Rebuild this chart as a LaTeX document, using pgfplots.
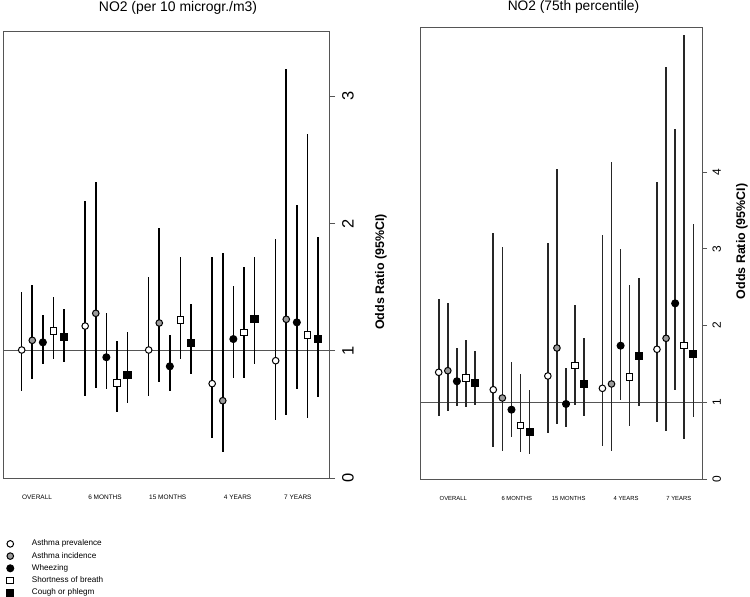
\documentclass[border=0pt]{standalone}
\usepackage{pgfplots}
\pgfplotsset{compat=1.18}
\usepackage{pgfplotstable}
\usepackage{fontspec}
\setmainfont{Liberation Sans}

\definecolor{boxgray}{HTML}{555555}
\definecolor{fillgray}{HTML}{9A9A9A}

% ---------- left panel: NO2 per 10 microgr/m3 ----------
\pgfplotstableread{
x y lo hi
1 1.007 0.685 1.465
7 1.195 0.646 2.177
13 1.007 0.646 1.582
19 0.743 0.319 1.740
25 0.923 0.458 1.878
}\LPrev
\pgfplotstableread{
x y lo hi
2 1.083 0.779 1.517
8 1.295 0.711 2.328
14 1.219 0.758 1.962
20 0.609 0.209 1.766
26 1.248 0.497 3.210
}\LInc
\pgfplotstableread{
x y lo hi
3 1.067 0.897 1.282
9 0.950 0.701 1.297
15 0.879 0.688 1.125
21 1.093 0.785 1.512
27 1.224 0.701 2.145
}\LWhz
\pgfplotstableread{
x y lo hi
4 1.154 0.936 1.425
10 0.746 0.518 1.080
16 1.243 0.936 1.735
22 1.143 0.785 1.661
28 1.125 0.476 2.700
}\LSob
\pgfplotstableread{
x y lo hi
5 1.111 0.915 1.326
11 0.813 0.589 1.151
17 1.060 0.816 1.368
23 1.250 0.897 1.740
29 1.091 0.641 1.894
}\LCough

% ---------- right panel: NO2 75th percentile ----------
\pgfplotstableread{
x y lo hi
1 1.391 0.826 2.343
7 1.164 0.421 3.203
13 1.343 0.596 3.073
19 1.182 0.434 3.181
25 1.691 0.739 3.868
}\RPrev
\pgfplotstableread{
x y lo hi
2 1.412 0.882 2.290
8 1.056 0.365 3.030
14 1.708 0.721 4.042
20 1.239 0.369 4.137
26 1.834 0.621 5.367
}\RInc
\pgfplotstableread{
x y lo hi
3 1.274 0.956 1.704
9 0.904 0.552 1.525
15 0.978 0.674 1.443
21 1.738 1.030 3.000
27 2.290 1.160 4.563
}\RWhz
\pgfplotstableread{
x y lo hi
4 1.313 0.943 1.812
10 0.695 0.356 1.365
16 1.482 0.965 2.273
22 1.326 0.695 2.529
28 1.743 0.521 5.789
}\RSob
\pgfplotstableread{
x y lo hi
5 1.256 0.965 1.669
11 0.613 0.326 1.160
17 1.235 0.826 1.834
23 1.600 0.956 2.617
29 1.625 0.812 3.325
}\RCough

\pgfplotsset{
  panel/.style={
    scale only axis,
    anchor=south west,
    ymin=0,
    axis line style={boxgray, line width=0.9bp},
    ytick pos=right, yticklabel pos=right,
    ytick align=outside, xtick align=inside,
    ytick style={boxgray, line width=0.9bp},
    xtick style={draw=none},
    xticklabel pos=lower,
    /pgf/number format/assume math mode=true,
    xticklabel style={anchor=center, yshift=-19.4bp, font=\fontsize{6.5}{6.5}\selectfont},
    xticklabels={OVERALL,6 MONTHS,15 MONTHS,4 YEARS,7 YEARS},
    clip=false,
  },
  ci/.style={
    only marks, line width=1bp, draw=black,
    error bars/y dir=both, error bars/y explicit, error bars/error mark=none,
    error bars/error bar style={line width=1.6bp, color=#1, solid},
  },
  ci/.default=black,
  mprev/.style={mark=*, mark size=3.3bp, mark options={fill=white, draw=black}},
  minc/.style={mark=*, mark size=3.3bp, mark options={fill=fillgray, draw=black}},
  mwhz/.style={mark=*, mark size=3.5bp, mark options={fill=black, draw=black}},
  msob/.style={mark=square*, mark size=3.3bp, mark options={fill=white, draw=black}},
  mcough/.style={mark=square*, mark size=3.6bp, mark options={fill=black, draw=black}},
}

\begin{document}
\begin{tikzpicture}[x=1bp, y=1bp]
\useasboundingbox (0,0) rectangle (750,597);

% left panel
\begin{axis}[panel,
  at={(3bp,118.7bp)}, width=326bp, height=447.3bp,
  xmin=-0.767, xmax=30.04, ymax=3.511,
  major tick length=6bp,
  ytick={0,1,2,3},
  yticklabel style={xshift=13bp, rotate=90, anchor=center, font=\fontsize{16.5}{16.5}\selectfont},
  xtick={2.45,8.87,14.8,21.4,27.1},
  legend style={at={(0.0015,-0.1328)}, anchor=north west, draw=none, fill=none,
    font=\fontsize{8.2}{8.2}\selectfont, row sep=4.2bp, column sep=18bp,
    nodes={inner sep=0pt, text height=6bp, text depth=2bp},
    cells={anchor=west}},
]
\addplot[boxgray, line width=0.9bp, forget plot] coordinates {(-0.767,1) (30.04,1)};
\addplot[ci, mprev] table[x=x, y=y, y error plus expr=\thisrow{hi}-\thisrow{y}, y error minus expr=\thisrow{y}-\thisrow{lo}] {\LPrev};
\addplot[ci, minc] table[x=x, y=y, y error plus expr=\thisrow{hi}-\thisrow{y}, y error minus expr=\thisrow{y}-\thisrow{lo}] {\LInc};
\addplot[ci, mwhz] table[x=x, y=y, y error plus expr=\thisrow{hi}-\thisrow{y}, y error minus expr=\thisrow{y}-\thisrow{lo}] {\LWhz};
\addplot[ci, msob] table[x=x, y=y, y error plus expr=\thisrow{hi}-\thisrow{y}, y error minus expr=\thisrow{y}-\thisrow{lo}] {\LSob};
\addplot[ci, mcough] table[x=x, y=y, y error plus expr=\thisrow{hi}-\thisrow{y}, y error minus expr=\thisrow{y}-\thisrow{lo}] {\LCough};
\legend{Asthma prevalence, Asthma incidence, Wheezing, Shortness of breath, Cough or phlegm}
\end{axis}

% right panel
\begin{axis}[panel,
  at={(420.7bp,118bp)}, width=282bp, height=451.7bp,
  xmin=-0.98, xmax=30.03, ymax=5.889,
  major tick length=4.5bp,
  ytick={0,1,2,3,4},
  yticklabel style={xshift=9.5bp, rotate=90, anchor=center, font=\fontsize{12}{12}\selectfont},
  xtick={2.6,9.58,15.3,21.6,27.4},
  xticklabel style={font=\fontsize{5.9}{5.9}\selectfont},
]
\addplot[boxgray, line width=0.9bp, forget plot] coordinates {(-0.98,1) (30.03,1)};
\addplot[ci=black!85, mprev] table[x=x, y=y, y error plus expr=\thisrow{hi}-\thisrow{y}, y error minus expr=\thisrow{y}-\thisrow{lo}] {\RPrev};
\addplot[ci=black!85, minc] table[x=x, y=y, y error plus expr=\thisrow{hi}-\thisrow{y}, y error minus expr=\thisrow{y}-\thisrow{lo}] {\RInc};
\addplot[ci=black!85, mwhz] table[x=x, y=y, y error plus expr=\thisrow{hi}-\thisrow{y}, y error minus expr=\thisrow{y}-\thisrow{lo}] {\RWhz};
\addplot[ci=black!85, msob] table[x=x, y=y, y error plus expr=\thisrow{hi}-\thisrow{y}, y error minus expr=\thisrow{y}-\thisrow{lo}] {\RSob};
\addplot[ci=black!85, mcough] table[x=x, y=y, y error plus expr=\thisrow{hi}-\thisrow{y}, y error minus expr=\thisrow{y}-\thisrow{lo}] {\RCough};
\end{axis}

% titles and axis labels
\node[font=\fontsize{14}{14}\selectfont] at (178,589.5) {NO2 (per 10 microgr./m3)};
\node[font=\fontsize{13.8}{14}\selectfont] at (573.5,590.3) {NO2 (75th percentile)};
\node[rotate=90, font=\bfseries\fontsize{12.5}{13}\selectfont] at (381,325) {Odds Ratio (95\%CI)};
\node[rotate=90, font=\bfseries\fontsize{12.5}{13}\selectfont] at (742,355.5) {Odds Ratio (95\%CI)};
\end{tikzpicture}
\end{document}
